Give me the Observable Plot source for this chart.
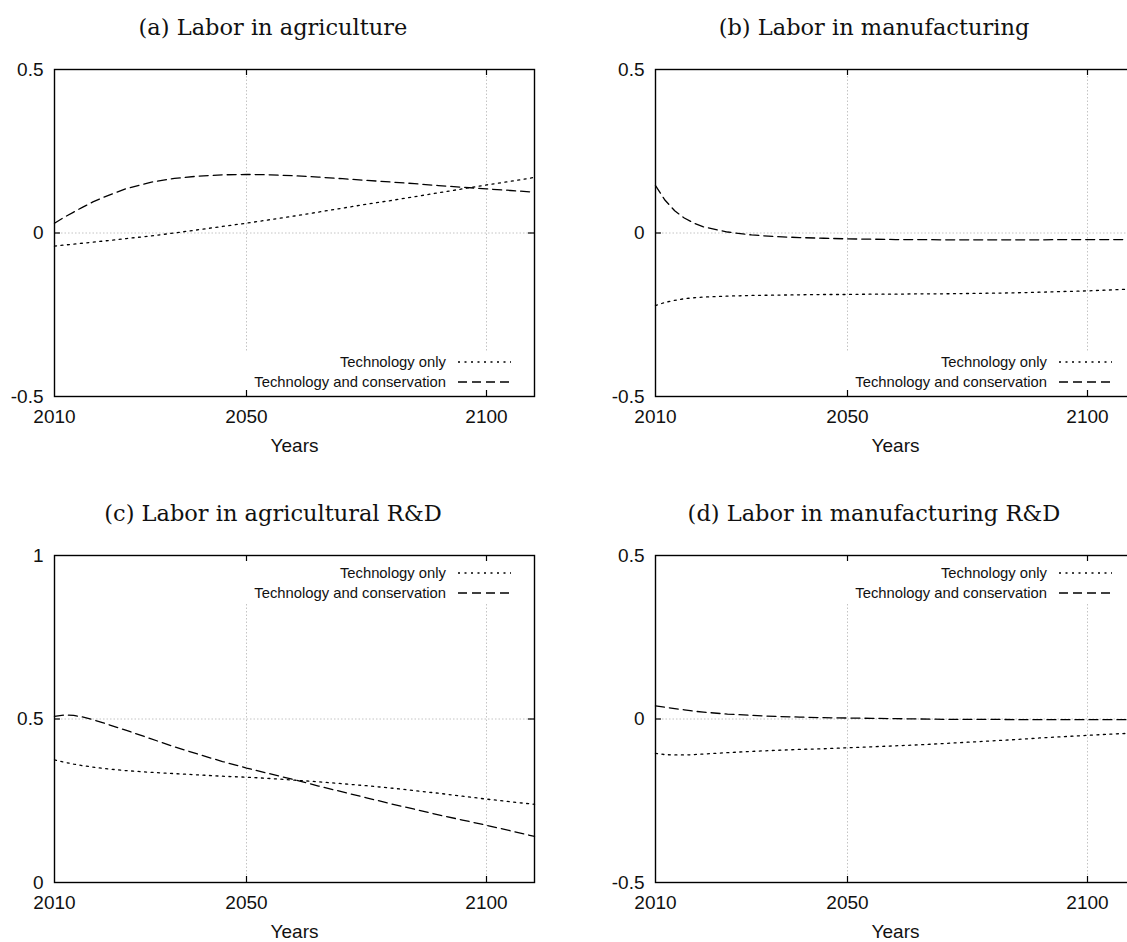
<!DOCTYPE html>
<html><head><meta charset="utf-8">
<script src="https://cdn.jsdelivr.net/npm/d3@7"></script>
<script src="https://cdn.jsdelivr.net/npm/@observablehq/plot@0.6"></script>
<style>
html,body{margin:0;padding:0;background:#fff;overflow:hidden;}
#root{position:relative;width:1127px;height:942px;overflow:hidden;background:#fff;}
.panel{position:absolute;width:560px;}
.panel svg{max-width:none !important;}
.title{position:absolute;width:546px;text-align:center;font-family:"DejaVu Serif",serif;font-size:22.5px;line-height:22.5px;color:#111;white-space:nowrap;}
.legend{position:absolute;background:#fff;font-family:"Liberation Sans",Arial,sans-serif;font-size:14.8px;color:#111;}
.lrow{position:absolute;right:10px;height:20px;display:flex;align-items:center;white-space:nowrap;}
.lrow svg{margin-left:12px;display:block;}
</style></head><body><div id="root"></div>
<script>
const years = [2010,2012,2014,2016,2018,2020,2025,2030,2035,2040,2045,2050,2055,2060,2065,2070,2075,2080,2085,2090,2095,2100,2105,2110];
const xDomain = [2010, 2110];
const xTicks = [2010, 2050, 2100];
const xGrid = [2050, 2100];
const panelTitles = ["(a) Labor in agriculture", "(b) Labor in manufacturing", "(c) Labor in agricultural R&D", "(d) Labor in manufacturing R&D"];
const seriesLabels = ["Technology only", "Technology and conservation"];
const xLabel = "Years";
const yTicksA = [-0.5, 0, 0.5];
const yTicksB = [-0.5, 0, 0.5];
const yTicksC = [0, 0.5, 1];
const yTicksD = [-0.5, 0, 0.5];

// (a) Labor in agriculture
const agriTech = [-0.040,-0.037,-0.034,-0.031,-0.028,-0.025,-0.017,-0.009,0.000,0.010,0.020,0.030,0.041,0.052,0.064,0.076,0.088,0.099,0.111,0.123,0.135,0.147,0.158,0.170];
const agriCons = [0.030,0.048,0.064,0.080,0.095,0.108,0.136,0.155,0.167,0.174,0.178,0.179,0.178,0.175,0.171,0.166,0.161,0.156,0.151,0.145,0.140,0.135,0.130,0.125];
// (b) Labor in manufacturing
const manuTech = [-0.222,-0.212,-0.206,-0.201,-0.198,-0.196,-0.193,-0.191,-0.190,-0.189,-0.188,-0.188,-0.187,-0.187,-0.186,-0.186,-0.185,-0.184,-0.183,-0.181,-0.179,-0.177,-0.174,-0.171];
const manuCons = [0.145,0.100,0.068,0.046,0.030,0.019,0.003,-0.006,-0.011,-0.014,-0.016,-0.018,-0.019,-0.020,-0.020,-0.021,-0.021,-0.021,-0.021,-0.021,-0.020,-0.020,-0.020,-0.020];
// (c) Labor in agricultural R&D
const agriRDTech = [0.375,0.368,0.362,0.357,0.353,0.349,0.342,0.337,0.333,0.329,0.325,0.322,0.318,0.313,0.308,0.302,0.296,0.289,0.281,0.273,0.264,0.255,0.247,0.239];
const agriRDCons = [0.508,0.512,0.511,0.506,0.498,0.489,0.465,0.440,0.415,0.392,0.370,0.350,0.332,0.314,0.295,0.277,0.259,0.241,0.224,0.207,0.191,0.175,0.158,0.141];
// (d) Labor in manufacturing R&D
const manuRDTech = [-0.105,-0.109,-0.110,-0.110,-0.109,-0.107,-0.103,-0.099,-0.096,-0.093,-0.091,-0.088,-0.085,-0.082,-0.079,-0.075,-0.071,-0.067,-0.063,-0.058,-0.054,-0.050,-0.046,-0.043];
const manuRDCons = [0.040,0.036,0.032,0.028,0.024,0.021,0.015,0.011,0.008,0.006,0.004,0.003,0.002,0.001,0.000,-0.001,-0.001,-0.001,-0.002,-0.002,-0.002,-0.002,-0.002,-0.002];

const panels = [
  {title: panelTitles[0], tech: agriTech, cons: agriCons, yTicks: yTicksA, col: 0, row: 0, legend: "bottom"},
  {title: panelTitles[1], tech: manuTech, cons: manuCons, yTicks: yTicksB, col: 1, row: 0, legend: "bottom"},
  {title: panelTitles[2], tech: agriRDTech, cons: agriRDCons, yTicks: yTicksC, col: 0, row: 1, legend: "top"},
  {title: panelTitles[3], tech: manuRDTech, cons: manuRDCons, yTicks: yTicksD, col: 1, row: 1, legend: "top"}
];

const W = 560, H = 466, ML = 54, MR = 26, MT = 69, MB = 70;
const FW = W - ML - MR, FH = H - MT - MB;
const colX = [0, 601], rowY = [0, 486];
const techDash = "2,4.5", consDash = "9,5", lw = 1.3;
const gridStyle = {stroke: "#bdbdbd", strokeWidth: 0.9, strokeDasharray: "1.5,2"};

const root = document.getElementById("root");

function makePlot(p) {
  const tech = years.map((yr, i) => ({year: yr, v: p.tech[i]}));
  const cons = years.map((yr, i) => ({year: yr, v: p.cons[i]}));
  const mid = [p.yTicks[1]];
  return Plot.plot({
    width: W, height: H, marginLeft: ML, marginRight: MR, marginTop: MT, marginBottom: MB,
    style: {fontFamily: "'Liberation Sans', Arial, sans-serif", fontSize: "19px", color: "#111", background: "transparent", overflow: "visible"},
    x: {domain: xDomain},
    y: {domain: [p.yTicks[0], p.yTicks[2]]},
    marks: [
      Plot.ruleX(xGrid, {x: d => d, ...gridStyle}),
      Plot.ruleY(mid, {y: d => d, ...gridStyle}),
      Plot.line(tech, {x: "year", y: "v", stroke: "#000", strokeWidth: lw, strokeDasharray: techDash}),
      Plot.line(cons, {x: "year", y: "v", stroke: "#000", strokeWidth: lw, strokeDasharray: consDash}),
      Plot.tickX(xGrid, {x: d => d, stroke: "#000", strokeWidth: 1.2, insetTop: FH - 6}),
      Plot.tickX(xGrid, {x: d => d, stroke: "#000", strokeWidth: 1.2, insetBottom: FH - 6}),
      Plot.tickY(mid, {y: d => d, stroke: "#000", strokeWidth: 1.2, insetRight: FW - 6}),
      Plot.tickY(mid, {y: d => d, stroke: "#000", strokeWidth: 1.2, insetLeft: FW - 6}),
      Plot.frame({stroke: "#000", strokeWidth: 1.4}),
      Plot.axisX(xTicks, {tickSize: 0, tickPadding: 13, tickFormat: d => String(d), fontSize: 19, label: null}),
      Plot.axisY(p.yTicks, {tickSize: 0, tickPadding: 11, tickFormat: d => String(d), fontSize: 19, label: null}),
      Plot.text([xLabel], {text: d => d, frameAnchor: "bottom", dy: 42, lineAnchor: "top", fontSize: 19, fill: "#111"})
    ]
  });
}

function sample(dash) {
  const ns = "http://www.w3.org/2000/svg";
  const s = document.createElementNS(ns, "svg");
  s.setAttribute("width", 53); s.setAttribute("height", 20);
  const l = document.createElementNS(ns, "line");
  l.setAttribute("x1", 0); l.setAttribute("x2", 53); l.setAttribute("y1", 10); l.setAttribute("y2", 10);
  l.setAttribute("stroke", "#000"); l.setAttribute("stroke-width", lw); l.setAttribute("stroke-dasharray", dash);
  s.appendChild(l);
  return s;
}

for (const p of panels) {
  const left = colX[p.col], top = rowY[p.row];
  const div = document.createElement("div");
  div.className = "panel";
  div.style.left = left + "px"; div.style.top = top + "px";
  div.appendChild(makePlot(p));
  root.appendChild(div);

  const t = document.createElement("div");
  t.className = "title";
  t.textContent = p.title;
  t.style.left = left + "px"; t.style.top = (top + 16) + "px";
  root.appendChild(t);

  const frameRight = left + ML + FW, frameTop = top + MT, frameBottom = top + MT + FH;
  const lg = document.createElement("div");
  lg.className = "legend";
  const boxLeft = frameRight - 298, boxW = 285;
  let boxTop, boxH, rows;
  if (p.legend === "bottom") { boxTop = frameBottom - 44; boxH = 38; rows = [frameBottom - 34, frameBottom - 14]; }
  else { boxTop = frameTop + 6; boxH = 43; rows = [frameTop + 18, frameTop + 38]; }
  lg.style.left = boxLeft + "px"; lg.style.top = boxTop + "px";
  lg.style.width = boxW + "px"; lg.style.height = boxH + "px";
  [[seriesLabels[0], techDash], [seriesLabels[1], consDash]].forEach(([lab, dash], i) => {
    const r = document.createElement("div");
    r.className = "lrow";
    r.style.top = (rows[i] - 10 - boxTop) + "px";
    const sp = document.createElement("span");
    sp.textContent = lab;
    r.appendChild(sp);
    r.appendChild(sample(dash));
    lg.appendChild(r);
  });
  root.appendChild(lg);
}
</script></body></html>
